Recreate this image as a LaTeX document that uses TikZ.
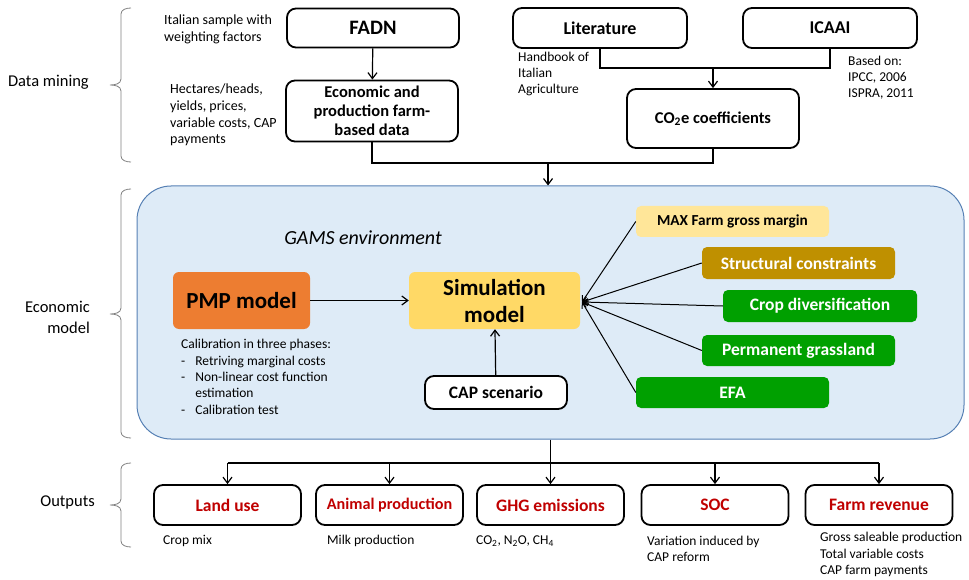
\documentclass[tikz,border=0pt]{standalone}
\usepackage{fontspec}
\setmainfont{Carlito}
\usetikzlibrary{arrows.meta}
\definecolor{envfill}{HTML}{DEEBF7}
\definecolor{envline}{HTML}{5680B4}
\definecolor{pmporange}{HTML}{ED7D31}
\definecolor{simyellow}{HTML}{FFD966}
\definecolor{maxyellow}{HTML}{FFE699}
\definecolor{structgold}{HTML}{BF9000}
\definecolor{rulegreen}{HTML}{00A000}
\definecolor{outred}{HTML}{C00000}
\definecolor{bracegray}{HTML}{808080}
\newcommand{\fs}[2]{\fontsize{#1}{#2}\selectfont}
\tikzset{
  line/.style={line width=1.2pt, draw=black},
  arr/.style={line, -{Straight Barb[length=6pt,width=9pt,line width=1.2pt]}},
  srcbox/.style={draw=black, line width=1.8pt, rounded corners=9pt, fill=white,
    inner sep=0pt, align=center, font=\bfseries\fs{16.5}{19}},
  outbox/.style={srcbox, minimum width=147pt, minimum height=40pt,
    text=outred, font=\bfseries\fs{17.5}{20}},
  rulebox/.style={rounded corners=5pt, inner sep=0pt, minimum width=193pt,
    minimum height=31pt, text=white, font=\bfseries\fs{17.5}{20}},
  note/.style={anchor=west, align=left, inner sep=0pt, font=\fs{14}{16.8}},
  smallnote/.style={anchor=west, align=left, inner sep=0pt, font=\fs{13.5}{16.4}},
  sidelabel/.style={anchor=east, align=right, inner sep=0pt, font=\fs{16.5}{21}},
  bracepath/.style={draw=bracegray, line width=0.8pt},
}
\begin{document}
\begin{tikzpicture}[x=1pt, y=-1pt]
\useasboundingbox (0,0) rectangle (969,580);

% ---------- Data mining ----------
\node[srcbox, minimum width=172pt, minimum height=39pt, font=\bfseries\fs{20.5}{22}] (fadn) at (373,28) {FADN};
\node[srcbox, minimum width=172pt, minimum height=61pt] (econ) at (372,111)
  {Economic and\\production farm-\\based data};
\node[srcbox, minimum width=174pt, minimum height=40pt, font=\bfseries\fs{18}{20}] (lit) at (600,28) {Literature};
\node[srcbox, minimum width=174pt, minimum height=40pt, font=\bfseries\fs{18}{20}] (icaai) at (830,28) {ICAAI};
\node[srcbox, minimum width=172pt, minimum height=59pt] (co2) at (713,118.5)
  {CO\textsubscript{2}e coefficients};

\node[note] (n1) at (164,29) {Italian sample with\\weighting factors};
\node[note] (n2) at (170,115) {Hectares/heads,\\yields, prices,\\variable costs, CAP\\payments};
\node[note, font=\fs{13.5}{16}] (n3) at (518,74) {Handbook of\\Italian\\Agriculture};
\node[note, font=\fs{13.5}{16}] (n4) at (848,78) {Based on:\\IPCC, 2006\\ISPRA, 2011};

\draw[arr] (fadn) -- (econ);
\coordinate (litjoin) at (713,68);
\draw[line] (lit.south) |- (litjoin) -| (icaai.south);
\draw[arr] (litjoin) -- (co2.north);
\coordinate (datajoin) at (548,163);
\draw[line] (econ.south) |- (datajoin) -| (co2.south);

% ---------- Economic model ----------
\node[draw=envline, line width=1pt, fill=envfill, rounded corners=34pt,
  minimum width=827pt, minimum height=253pt, inner sep=0pt] (gams) at (550.5,312.5) {};
\draw[arr] (datajoin) -- (datajoin |- gams.north);

\node[inner sep=0pt, font=\itshape\fs{20}{24}] (gamslabel) at (363,238) {GAMS environment};

\node[fill=pmporange, rounded corners=6pt, minimum width=137pt, minimum height=57pt,
  inner sep=0pt, font=\bfseries\fs{23}{26}] (pmp) at (241.5,300.5) {PMP model};
\node[fill=simyellow, rounded corners=6pt, minimum width=171pt, minimum height=57pt,
  inner sep=0pt, align=center, font=\bfseries\fs{23}{27}] (sim) at (494.5,300.5)
  {Simulation\\model};
\node[srcbox, minimum width=142pt, minimum height=33pt, font=\bfseries\fs{17.5}{20}]
  (cap) at (496,392.5) {CAP scenario};

\node[smallnote, anchor=north west] (calib) at (181,337) {%
  \begin{tabular}{@{}l@{\hspace{10pt}}l@{}}
  \multicolumn{2}{@{}l@{}}{Calibration in three phases:}\\
  - & Retriving marginal costs\\
  - & Non-linear cost function\\
    & estimation\\
  - & Calibration test
  \end{tabular}};

\node[rulebox, fill=maxyellow, text=black, font=\bfseries\fs{15.3}{18}] (max) at (732.5,221.5)
  {MAX Farm gross margin};
\node[rulebox, fill=structgold, minimum height=32pt] (struct) at (798.5,263) {Structural constraints};
\node[rulebox, fill=rulegreen, minimum width=194pt, minimum height=32pt] (crop) at (820,306)
  {Crop diversification};
\node[rulebox, fill=rulegreen] (perm) at (798.5,350.5) {Permanent grassland};
\node[rulebox, fill=rulegreen] (efa) at (732.5,392.5) {EFA};

\draw[arr] (pmp) -- (sim);
\draw[arr] (cap) -- (sim);
\coordinate (hub) at (582,302);
\foreach \b in {max, struct, crop, perm, efa}
  \draw[line, line width=1pt, -{Straight Barb[length=5pt,width=7pt,line width=1pt]}] (\b.west) -- (hub);

% ---------- Outputs ----------
\node[outbox] (land) at (227.5,505) {Land use};
\node[outbox, font=\bfseries\fs{16.2}{19}] (animal) at (389.5,505) {Animal production};
\node[outbox] (ghg) at (550.5,505) {GHG emissions};
\node[outbox] (soc) at (715,505) {SOC};
\node[outbox] (rev) at (879,505) {Farm revenue};

\coordinate (outjoin) at (550.5,463);
\draw[line] (land.north |- outjoin) -- (rev.north |- outjoin);
\draw[arr] (gams.south -| ghg.north) -- (ghg.north);
\foreach \b in {land, animal, soc, rev}
  \draw[arr] (\b.north |- outjoin) -- (\b.north);

\node[smallnote] (o1) at (163,541) {Crop mix};
\node[smallnote] (o2) at (327,541) {Milk production};
\node[smallnote] (o3) at (476,541) {CO\textsubscript{2}, N\textsubscript{2}O, CH\textsubscript{4}};
\node[smallnote] (o4) at (647,549) {Variation induced by\\CAP reform};
\node[smallnote] (o5) at (820,554.5) {Gross saleable production\\Total variable costs\\CAP farm payments};

% ---------- Section labels and braces ----------
\node[sidelabel] (l1) at (89,82) {Data mining};
\node[sidelabel] (l2) at (90,317) {Economic\\model};
\node[sidelabel] (l3) at (95,502) {Outputs};

\draw[bracepath] (131,8) to[out=180,in=90] (121,14) -- (121,79)
  to[out=270,in=0] (110,85) to[out=0,in=90] (121,91) -- (121,156) to[out=270,in=180] (131,162);
\draw[bracepath] (131,189) to[out=180,in=90] (121,195) -- (121,308)
  to[out=270,in=0] (110,314) to[out=0,in=90] (121,320) -- (121,432) to[out=270,in=180] (131,438);
\draw[bracepath] (131,463) to[out=180,in=90] (121,469) -- (121,499)
  to[out=270,in=0] (110,505) to[out=0,in=90] (121,511) -- (121,541) to[out=270,in=180] (131,547);
\end{tikzpicture}
\end{document}
